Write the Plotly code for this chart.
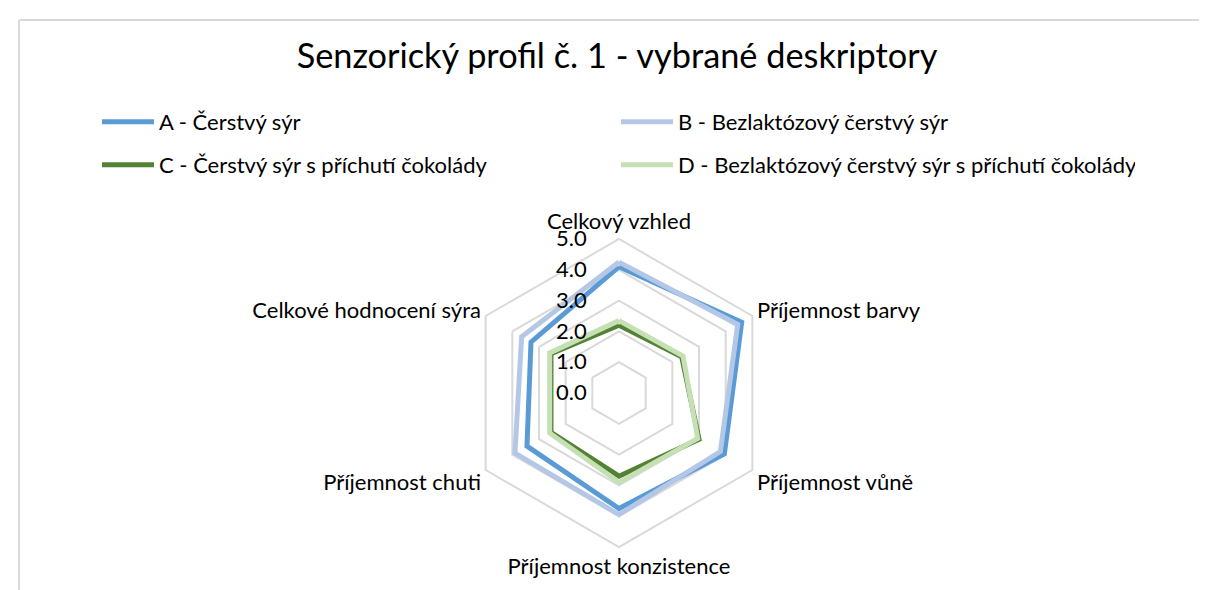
import plotly.graph_objects as go

W, H = 1207, 590

# -------------------------
# DATA
# -------------------------
descriptors = [
    "Celkový vzhled",
    "Příjemnost barvy",
    "Příjemnost vůně",
    "Příjemnost konzistence",
    "Příjemnost chuti",
    "Celkové hodnocení sýra",
]
series_names = [
    "A - Čerstvý sýr",
    "B - Bezlaktózový čerstvý sýr",
    "C - Čerstvý sýr s příchutí čokolády",
    "D - Bezlaktózový čerstvý sýr s příchutí čokolády",
]
vals_a = [4.1, 4.6, 3.95, 3.75, 3.45, 3.3]
vals_b = [4.25, 4.45, 3.8, 3.95, 3.9, 3.65]
vals_c = [2.2, 2.35, 3.0, 2.7, 2.55, 2.55]
vals_d = [2.35, 2.4, 2.95, 2.9, 2.6, 2.6]
radial_ticks = [0, 1, 2, 3, 4, 5]

colors = ["#5b9bd5", "#b4c7e7", "#548235", "#c5e0b4"]
legend_ids = ["legend", "legend", "legend2", "legend2"]
font_family = "Lato, 'Open Sans', sans-serif"

# -------------------------
# RADAR
# -------------------------
fig = go.Figure()
for name, vals, col, lg in zip(series_names, [vals_a, vals_b, vals_c, vals_d], colors, legend_ids):
    fig.add_trace(go.Scatterpolar(
        r=vals + vals[:1],
        theta=descriptors + descriptors[:1],
        mode="lines",
        name=name,
        legend=lg,
        line=dict(color=col, width=5),
    ))

legend_style = dict(
    orientation="h",
    x=89 / W, xanchor="left",
    yanchor="top",
    entrywidth=452, entrywidthmode="pixels",
    font=dict(size=22, color="black"),
    itemwidth=52,
    bgcolor="rgba(0,0,0,0)",
)

# polar placement in pixels -> paper fractions
cx, cy, rad = 611, 385, 154
fig.update_layout(
    width=W,
    height=H,
    paper_bgcolor="white",
    plot_bgcolor="white",
    margin=dict(l=0, r=0, t=0, b=0),
    font=dict(family=font_family, color="black"),
    title=dict(
        text="Senzorický profil č. 1 - vybrané deskriptory",
        x=609 / W, xanchor="center",
        y=1 - 48 / H, yanchor="middle",
        font=dict(size=34.3, color="black"),
    ),
    legend=dict(legend_style, y=1 - 93 / H),
    legend2=dict(legend_style, y=1 - 136 / H),
    polar=dict(
        domain=dict(x=[(cx - rad) / W, (cx + rad) / W],
                    y=[1 - (cy + rad) / H, 1 - (cy - rad) / H]),
        gridshape="linear",
        bgcolor="white",
        radialaxis=dict(
            range=[0, 5],
            tickvals=radial_ticks,
            tickformat=".1f",
            angle=90,
            tickangle=90,
            side="counterclockwise",
            showline=False,
            ticks="outside",
            ticklen=24,
            tickcolor="rgba(0,0,0,0)",
            gridcolor="#d9d9d9",
            gridwidth=2,
            tickfont=dict(size=22, color="black"),
        ),
        angularaxis=dict(
            rotation=90,
            direction="clockwise",
            showgrid=False,
            showline=True,
            linecolor="#d9d9d9",
            linewidth=2,
            ticks="",
            tickfont=dict(size=22, color="black"),
        ),
    ),
    shapes=[
        dict(type="line", xref="paper", yref="paper",
             x0=11 / W, x1=1.0, y0=1 - 12 / H, y1=1 - 12 / H,
             line=dict(color="#d9d9d9", width=2)),
        dict(type="line", xref="paper", yref="paper",
             x0=11 / W, x1=11 / W, y0=0, y1=1 - 12 / H,
             line=dict(color="#d9d9d9", width=2)),
    ],
)

fig.write_html("out.html")
